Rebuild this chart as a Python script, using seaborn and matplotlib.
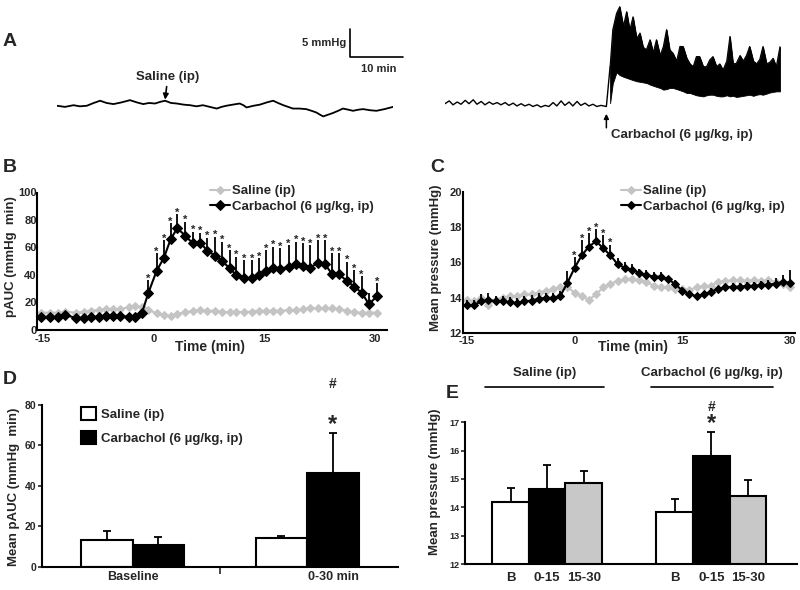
import numpy as np
import pandas as pd
import matplotlib
matplotlib.use("Agg")
import matplotlib.pyplot as plt
import seaborn as sns
from matplotlib import font_manager
from matplotlib.patches import Patch

# ---- panel A: raw pressure traces (min, mmHg) ----
sal_trace_t = [0, 1.5, 3.1, 4.3, 5.6, 6.9, 8.1, 9.3, 10.6, 12.1, 13.7, 15.0, 16.2, 17.3, 18.4,
               19.4, 20.3, 21.4, 22.5, 23.8, 25.0, 26.2, 27.4, 28.7, 30.0, 30.9, 31.8, 33.0, 34.3,
               35.0, 35.6, 36.9, 38.1, 39.4, 40.6, 41.5, 42.5, 43.4, 44.3, 45.5, 46.8, 47.8, 48.7,
               49.4, 50.0, 50.9, 51.8, 52.8, 53.7, 54.7, 55.6, 56.6, 57.5, 58.8, 60.0, 61.5, 63.1]
sal_trace_p = [14.4, 14.2, 14.5, 14.3, 14.4, 14.9, 15.3, 14.9, 14.7, 15.0, 15.4, 15.0, 14.7, 14.9, 14.8,
               15.1, 15.3, 14.9, 14.8, 14.6, 14.5, 14.3, 14.5, 14.2, 13.9, 14.2, 14.4, 14.6, 14.8,
               14.5, 14.1, 14.4, 14.6, 15.0, 15.3, 14.9, 14.5, 14.2, 13.9, 13.9, 13.8, 13.5, 13.2,
               12.8, 12.5, 12.8, 13.1, 13.5, 13.9, 13.7, 13.5, 13.7, 13.8, 13.6, 13.5, 13.8, 14.2]
sal_inject_t = 20.3

carb_base_t = [0, 0.8, 1.5, 2.3, 3.0, 3.8, 4.5, 5.3, 6.0, 6.8, 7.5, 8.3, 9.0, 9.8, 10.5, 11.3, 12.0,
               12.8, 13.5, 14.3, 15.0, 15.8, 16.5, 17.3, 18.0, 18.8, 19.5, 20.3, 21.0, 21.8, 22.5,
               23.3, 24.0, 24.8, 25.5, 26.3, 27.0, 27.8, 28.5, 29.3, 30.3]
carb_base_p = [14.4, 14.9, 14.2, 14.7, 14.3, 15.0, 14.4, 15.1, 14.3, 14.8,
               14.2, 14.7, 14.3, 14.6, 14.2, 14.6, 14.1, 14.5, 14.0, 14.4,
               14.0, 14.3, 13.9, 14.2, 13.8, 14.1, 13.9, 14.6, 14.0, 14.9,
               14.1, 14.7, 14.0, 14.8, 14.1, 14.5, 14.0, 14.3, 13.9, 14.1, 13.9]
carb_post_t = [31.0, 31.5, 32.2, 32.8, 33.5, 34.1, 34.7, 35.3, 36.0, 36.6,
               37.2, 37.8, 38.5, 39.1, 39.7, 40.4, 41.0, 41.6, 42.2, 42.8,
               43.5, 44.1, 44.7, 45.4, 46.0, 46.6, 47.2, 47.8, 48.5, 49.1,
               49.7, 50.3, 51.0, 51.6, 52.2, 52.9, 53.5, 54.1, 54.7, 55.4,
               56.0, 56.6, 57.2, 57.9, 58.5, 59.1, 59.7, 60.4, 61.0, 61.6,
               62.2, 62.9]
carb_post_hi = [21.0, 27.6, 30.5, 31.7, 28.2, 30.8, 27.5, 29.9, 26.0, 27.0,
                24.5, 24.0, 25.8, 23.5, 25.8, 23.0, 24.6, 27.6, 24.0, 23.4,
                22.0, 24.6, 24.6, 22.5, 21.5, 21.0, 22.8, 22.8, 21.0, 21.0,
                22.2, 22.8, 21.0, 21.5, 20.4, 22.0, 26.4, 21.5, 21.6, 23.0,
                22.0, 23.0, 24.6, 22.0, 21.5, 22.3, 24.6, 21.5, 21.8, 22.5,
                21.0, 24.6]
carb_post_lo = [14.5, 18.0, 20.0, 19.5, 19.2, 19.0, 18.8, 18.6, 18.4, 18.3,
                18.2, 18.1, 17.8, 17.6, 17.4, 17.2, 16.9, 17.0, 17.2, 17.2,
                17.0, 16.8, 16.6, 16.3, 16.3, 16.1, 15.9, 15.8, 15.7, 15.9,
                16.0, 16.0, 15.8, 15.7, 15.7, 15.9, 15.7, 15.8, 15.6, 15.7,
                15.8, 15.9, 16.0, 15.8, 16.0, 16.1, 16.0, 16.2, 16.4, 16.5,
                16.6, 16.6]
carb_inject_t = 30.3

# ---- panel B: pAUC time course ----
b_time = [-15.2, -14.1, -13.0, -12.0, -10.5, -9.5, -8.5, -7.4, -6.5, -5.5, -4.5, -3.4, -2.5, -1.6,
          -0.7, 0.4, 1.4, 2.3, 3.2, 4.3, 5.3, 6.3, 7.3, 8.3, 9.3, 10.3, 11.2, 12.3, 13.3, 14.3,
          15.2, 16.2, 17.2, 18.3, 19.3, 20.3, 21.2, 22.3, 23.2, 24.2, 25.1, 26.2, 27.2, 28.2,
          29.2, 30.3]
b_saline = [12.3, 12.3, 12.3, 13.0, 12.3, 13.0, 13.7, 14.2, 15.0, 15.0, 15.0, 16.2, 17.2, 16.2,
            14.2, 11.8, 10.6, 9.9, 11.4, 12.5, 13.7, 14.2, 13.7, 13.7, 13.0, 12.5, 12.5, 13.0,
            13.0, 13.7, 13.7, 13.7, 13.7, 14.2, 14.2, 15.0, 15.5, 15.5, 15.5, 15.5, 15.0, 13.7,
            12.5, 12.3, 12.3, 12.3]
b_carb = [9.3, 9.3, 9.3, 10.4, 8.6, 8.6, 9.3, 9.3, 9.9, 9.9, 9.9, 9.3, 8.9, 11.8,
          26.9, 42.7, 52.4, 65.8, 73.9, 68.5, 62.9, 63.4, 57.5, 53.9, 50.0, 44.7, 39.8, 37.8,
          37.4, 39.8, 42.7, 45.1, 44.2, 45.8, 47.8, 46.4, 45.1, 48.8, 47.8, 40.5, 40.5, 35.4,
          31.3, 26.9, 18.4, 24.5]
b_carb_err = [1.0, 1.0, 1.0, 1.0, 1.0, 1.0, 1.0, 1.0, 1.0, 1.0, 1.0, 1.0, 1.0, 1.0,
              9.1, 13.1, 12.9, 11.7, 10.4, 10.2, 8.5, 7.3, 9.5, 13.9, 14.1, 13.3, 13.4, 12.9,
              13.3, 12.2, 15.3, 15.3, 15.1, 15.9, 16.3, 16.5, 16.6, 16.5, 17.5, 15.1, 15.1, 14.1,
              12.1, 12.2, 8.0, 9.2]
b_star = [0, 0, 0, 0, 0, 0, 0, 0, 0, 0, 0, 0, 0, 0,
          1, 1, 1, 1, 1, 1, 1, 1, 1, 1, 1, 1, 1, 1, 1, 1, 1, 1, 1, 1,
          1, 1, 1, 1, 1, 1, 1, 1, 1, 1, 0, 1]

# ---- panel C: mean pressure time course ----
c_time = list(range(-15, 31))
c_saline = [13.9, 13.8, 14.0, 13.6, 13.9, 14.0, 14.1, 14.1, 14.2, 14.2, 14.3, 14.4, 14.5, 14.6,
            14.6, 14.3, 14.1, 13.9, 14.2, 14.6, 14.8, 14.95, 15.05, 15.05, 15.0, 14.9, 14.7,
            14.6, 14.6, 14.5, 14.5, 14.45, 14.6, 14.65, 14.7, 14.9, 14.95, 15.0, 15.0, 14.95,
            15.0, 14.95, 15.0, 14.9, 14.8, 14.6]
c_carb = [13.6, 13.6, 13.8, 13.9, 13.8, 13.8, 13.75, 13.7, 13.8, 13.85, 13.95, 14.0, 14.0,
          14.1, 14.85, 15.7, 16.4, 16.9, 17.2, 16.8, 16.4, 15.9, 15.7, 15.6, 15.4, 15.3, 15.2,
          15.2, 15.05, 14.8, 14.4, 14.2, 14.1, 14.2, 14.35, 14.5, 14.6, 14.63, 14.63, 14.68,
          14.68, 14.73, 14.75, 14.8, 14.9, 14.85]
c_carb_err = [0.3, 0.3, 0.4, 0.4, 0.3, 0.3, 0.3, 0.3, 0.3, 0.3, 0.3, 0.3, 0.3, 0.3, 0.65,
              0.6, 0.85, 0.75, 0.67, 0.75, 0.6, 0.35, 0.35, 0.3, 0.25, 0.25, 0.25, 0.25, 0.2,
              0.2, 0.2, 0.2, 0.2, 0.2, 0.2, 0.2, 0.2, 0.2, 0.2, 0.2, 0.2, 0.2, 0.25, 0.3, 0.4, 0.75]
c_star_times = [0, 1, 2, 3, 4, 5]

# ---- panel D: mean pAUC ----
d_periods = ["Baseline", "0-30 min"]
d_groups = ["Saline (ip)", "Carbachol (6 µg/kg, ip)"]
d_saline = [13.2, 14.0]
d_saline_err = [4.6, 1.0]
d_carb = [10.7, 46.5]
d_carb_err = [3.8, 19.5]

# ---- panel E: mean pressure by period ----
e_groups = ["Saline (ip)", "Carbachol (6 µg/kg, ip)"]
e_periods = ["B", "0-15", "15-30"]
e_base = [14.2, 13.85]
e_base_err = [0.47, 0.44]
e_first = [14.66, 15.8]
e_first_err = [0.82, 0.86]
e_second = [14.85, 14.4]
e_second_err = [0.43, 0.58]

sns.set_style("white")
plt.rcParams["font.family"] = ["Liberation Sans", "DejaVu Sans"]
plt.rcParams["font.weight"] = "bold"
plt.rcParams["axes.unicode_minus"] = False
font_names = {f.name for f in font_manager.fontManager.ttflist}
narrow = "Liberation Sans Narrow" if "Liberation Sans Narrow" in font_names else "Liberation Sans"

W, H = 800, 590
fig = plt.figure(figsize=(8, 5.9), dpi=100)
GRAY = "#c4c4c4"


def add_ax(x0, y0, x1, y1):
    return fig.add_axes([x0 / W, 1 - y1 / H, (x1 - x0) / W, (y1 - y0) / H])


def style_ax(ax):
    sns.despine(ax=ax)
    for s in ["left", "bottom"]:
        ax.spines[s].set_linewidth(1.5)
        ax.spines[s].set_color("black")


def ftext(x, y, s, **kw):
    fig.text(x / W, 1 - y / H, s, **kw)


# panel letters
for letter, (x, y) in {"A": (10, 42), "B": (10, 167), "C": (437, 167),
                       "D": (10, 380), "E": (452, 393)}.items():
    ftext(x, y, letter, fontsize=14, fontweight="bold", ha="center", va="center")

# ---- A ----
ax_as = add_ax(57, 5, 393, 130)
ax_as.plot(sal_trace_t, sal_trace_p, color="black", lw=1.3)
ax_as.set_xlim(0, 63.1)
ax_as.set_ylim(10.07, 32.4)
ax_as.axis("off")
# scale bar
ax_as.plot([55, 55, 65], [28.1, 23.1, 23.1], color="black", lw=1.2, clip_on=False)
ax_as.text(54.4, 25.6, "5 mmHg", ha="right", va="center", fontsize=8, family=narrow)
ax_as.text(60.5, 21.0, "10 min", ha="center", va="center", fontsize=8, family=narrow)
ax_as.annotate("Saline (ip)", xy=(sal_inject_t, 15.5), xytext=(sal_inject_t + 0.5, 18.4),
               ha="center", va="bottom", fontsize=9.5, family=narrow,
               arrowprops=dict(arrowstyle="-|>", color="black", lw=1.2, mutation_scale=8,
                               shrinkA=0, shrinkB=0))

ax_ac = add_ax(445, 5, 780, 130)
ax_ac.plot(carb_base_t + [carb_post_t[0]], carb_base_p + [carb_post_hi[0]], color="black", lw=1.0)
ax_ac.fill_between(carb_post_t, carb_post_lo, carb_post_hi, color="black", lw=0.6)
ax_ac.plot(carb_post_t, carb_post_hi, color="black", lw=0.8)
ax_ac.set_xlim(0, 62.9)
ax_ac.set_ylim(9.71, 32.0)
ax_ac.axis("off")
ax_ac.annotate("", xy=(carb_inject_t, 12.6), xytext=(carb_inject_t, 10.1),
               arrowprops=dict(arrowstyle="-|>", color="black", lw=1.1, mutation_scale=7,
                               shrinkA=0, shrinkB=0), annotation_clip=False)
ax_ac.text(carb_inject_t + 0.8, 8.8, "Carbachol (6 µg/kg, ip)", ha="left", va="center",
           fontsize=9.5, family=narrow, clip_on=False)

# ---- B ----
ax_b = add_ax(36.7, 192.5, 386.7, 329.5)
sns.lineplot(x=b_time, y=b_saline, ax=ax_b, color=GRAY, lw=1.5, marker="D", markersize=4.5,
             markeredgecolor=GRAY, label="Saline (ip)", zorder=2)
ax_b.vlines(b_time, b_carb, np.array(b_carb) + np.array(b_carb_err), color="black", lw=1.3, zorder=3)
sns.lineplot(x=b_time, y=b_carb, ax=ax_b, color="black", lw=1.5, marker="D", markersize=5,
             markeredgecolor="black", label="Carbachol (6 µg/kg, ip)", zorder=4)
for t, v, e, s in zip(b_time, b_carb, b_carb_err, b_star):
    if s:
        ax_b.annotate("*", (t, v + e), xytext=(0, -2.5), textcoords="offset points",
                      ha="center", va="bottom", fontsize=8, fontweight="bold")
ax_b.set_xlim(-15.85, 31.6)
ax_b.set_ylim(0, 100)
ax_b.set_xticks([-15, 0, 15, 30])
ax_b.set_yticks(range(0, 101, 20))
ax_b.tick_params(axis="x", length=0, labelsize=8, pad=3)
ax_b.tick_params(axis="y", length=0, labelsize=8, pad=0)
style_ax(ax_b)
ax_b.legend(loc="upper left", bbox_to_anchor=(210 / W, 1 - 185 / H), bbox_transform=fig.transFigure,
            frameon=False, fontsize=9.5, handlelength=1.5, handletextpad=0.2, labelspacing=0.25,
            borderpad=0, borderaxespad=0)
ftext(210, 347, "Time (min)", fontsize=10, fontweight="bold", ha="center", va="center")
ftext(11, 257, "pAUC (mmHg  min)", fontsize=9.5, fontweight="bold", rotation=90,
      ha="center", va="center")

# ---- C ----
ax_c = add_ax(463.3, 191.7, 795, 333.3)
sns.lineplot(x=c_time, y=c_saline, ax=ax_c, color=GRAY, lw=1.5, marker="D", markersize=4.5,
             markeredgecolor=GRAY, label="Saline (ip)", zorder=2)
ax_c.vlines(c_time, c_carb, np.array(c_carb) + np.array(c_carb_err), color="black", lw=1.3, zorder=3)
sns.lineplot(x=c_time, y=c_carb, ax=ax_c, color="black", lw=1.5, marker="D", markersize=4.5,
             markeredgecolor="black", label="Carbachol (6 µg/kg, ip)", zorder=4)
for t, v, e in zip(c_time, c_carb, c_carb_err):
    if t in c_star_times:
        ax_c.annotate("*", (t, v + e), xytext=(0, -2.5), textcoords="offset points",
                      ha="center", va="bottom", fontsize=8, fontweight="bold")
ax_c.set_xlim(-15.5, 30.7)
ax_c.set_ylim(12, 20)
ax_c.set_xticks([-15, 0, 15, 30])
ax_c.set_yticks(range(12, 21, 2))
ax_c.tick_params(axis="x", length=0, labelsize=8, pad=2)
ax_c.tick_params(axis="y", length=0, labelsize=8, pad=1)
style_ax(ax_c)
ax_c.legend(loc="upper left", bbox_to_anchor=(621 / W, 1 - 185 / H), bbox_transform=fig.transFigure,
            frameon=False, fontsize=9.5, handlelength=1.5, handletextpad=0.2, labelspacing=0.25,
            borderpad=0, borderaxespad=0)
ftext(633, 347, "Time (min)", fontsize=10, fontweight="bold", ha="center", va="center")
ftext(436, 258, "Mean pressure (mmHg)", fontsize=9.5, fontweight="bold", rotation=90,
      ha="center", va="center")

# ---- D ----
ax_d = add_ax(41.7, 405, 398, 566.7)
df_d = pd.DataFrame({
    "period": d_periods * 2,
    "group": [d_groups[0]] * 2 + [d_groups[1]] * 2,
    "value": d_saline + d_carb,
})
sns.barplot(data=df_d, x="period", y="value", hue="group", order=d_periods, hue_order=d_groups,
            palette=["white", "black"], saturation=1, width=0.59, edgecolor="black",
            linewidth=1.5, errorbar=None, legend=False, ax=ax_d)
for cont, vals, errs in zip(ax_d.containers, [d_saline, d_carb], [d_saline_err, d_carb_err]):
    xs = [b.get_x() + b.get_width() / 2 for b in cont]
    ax_d.errorbar(xs, vals, yerr=[np.zeros(len(errs)), errs], fmt="none", ecolor="black",
                  elinewidth=1.3, capsize=3, capthick=1.3)
top_bar = ax_d.containers[1][1]
xc = top_bar.get_x() + top_bar.get_width() / 2
ax_d.text(xc, d_carb[1] + d_carb_err[1] + 4.5, "*", ha="center", va="center", fontsize=17,
          fontweight="bold")
ax_d.text(xc, d_carb[1] + d_carb_err[1] + 24.5, "#", ha="center", va="center", fontsize=10,
          fontweight="bold", clip_on=False)
ax_d.set_xlim(-0.52, 1.52)
ax_d.set_ylim(0, 80)
ax_d.set_xticks([0, 1.15], d_periods)
ax_d.set_xticks([0.5], minor=True)
ax_d.set_yticks(range(0, 81, 20))
ax_d.tick_params(axis="x", which="major", length=0, labelsize=9, pad=3)
ax_d.tick_params(axis="x", which="minor", length=5, width=1.2, direction="out", bottom=True)
ax_d.tick_params(axis="y", length=3, width=1.2, direction="out", left=True, labelsize=7.5, pad=1)
ax_d.set_xlabel("")
ax_d.set_ylabel("")
style_ax(ax_d)
handles = [Patch(facecolor="white", edgecolor="black", lw=1.5, label=d_groups[0]),
           Patch(facecolor="black", edgecolor="black", lw=1.5, label=d_groups[1])]
ax_d.legend(handles=handles, loc="upper left", bbox_to_anchor=(81 / W, 1 - 407 / H),
            bbox_transform=fig.transFigure, frameon=False, fontsize=9.5, handlelength=1.1,
            handleheight=1.1, handletextpad=0.4, labelspacing=0.8, borderpad=0, borderaxespad=0)
ftext(14, 487, "Mean pAUC (mmHg  min)", fontsize=9.5, fontweight="bold", rotation=90,
      ha="center", va="center")

# ---- E ----
ax_e = add_ax(465, 422.3, 796.7, 564)
df_e = pd.DataFrame({
    "group": e_groups * 3,
    "period": [e_periods[0]] * 2 + [e_periods[1]] * 2 + [e_periods[2]] * 2,
    "value": e_base + e_first + e_second,
})
sns.barplot(data=df_e, x="group", y="value", hue="period", order=e_groups, hue_order=e_periods,
            palette=["white", "black", "#c8c8c8"], saturation=1, width=0.668, edgecolor="black",
            linewidth=1.5, errorbar=None, legend=False, ax=ax_e)
tick_pos, tick_lab = [], []
for cont, vals, errs, lab in zip(ax_e.containers, [e_base, e_first, e_second],
                                 [e_base_err, e_first_err, e_second_err], e_periods):
    xs = [b.get_x() + b.get_width() / 2 for b in cont]
    ax_e.errorbar(xs, vals, yerr=[np.zeros(len(errs)), errs], fmt="none", ecolor="black",
                  elinewidth=1.3, capsize=3, capthick=1.3)
    tick_pos += xs
    tick_lab += [lab] * len(xs)
sig_bar = ax_e.containers[1][1]
xc = sig_bar.get_x() + sig_bar.get_width() / 2
ax_e.text(xc, e_first[1] + e_first_err[1] + 0.28, "*", ha="center", va="center", fontsize=17,
          fontweight="bold", clip_on=False)
ax_e.text(xc, e_first[1] + e_first_err[1] + 0.88, "#", ha="center", va="center", fontsize=10,
          fontweight="bold", clip_on=False)
ax_e.set_xlim(-0.5, 1.52)
ax_e.set_ylim(12, 17)
ax_e.set_xticks(tick_pos, tick_lab)
ax_e.set_yticks(range(12, 18))
ax_e.tick_params(axis="x", length=0, labelsize=9.5, pad=6)
ax_e.tick_params(axis="y", length=3, width=1.2, direction="out", left=True, labelsize=6.5, pad=1)
ax_e.set_xlabel("")
ax_e.set_ylabel("")
style_ax(ax_e)
tr = ax_e.get_xaxis_transform()
for g, (x0, x1) in enumerate([(-0.38, 0.345), (0.63, 1.376)]):
    ax_e.plot([x0, x1], [1.249, 1.249], color="black", lw=1.2, transform=tr, clip_on=False)
    ax_e.text((x0 + x1) / 2, 1.35, e_groups[g], transform=tr, ha="center", va="center",
              fontsize=9.5, fontweight="bold")
ftext(435, 482, "Mean pressure (mmHg)", fontsize=9.5, fontweight="bold", rotation=90,
      ha="center", va="center")

fig.savefig("out.png", dpi=100)
